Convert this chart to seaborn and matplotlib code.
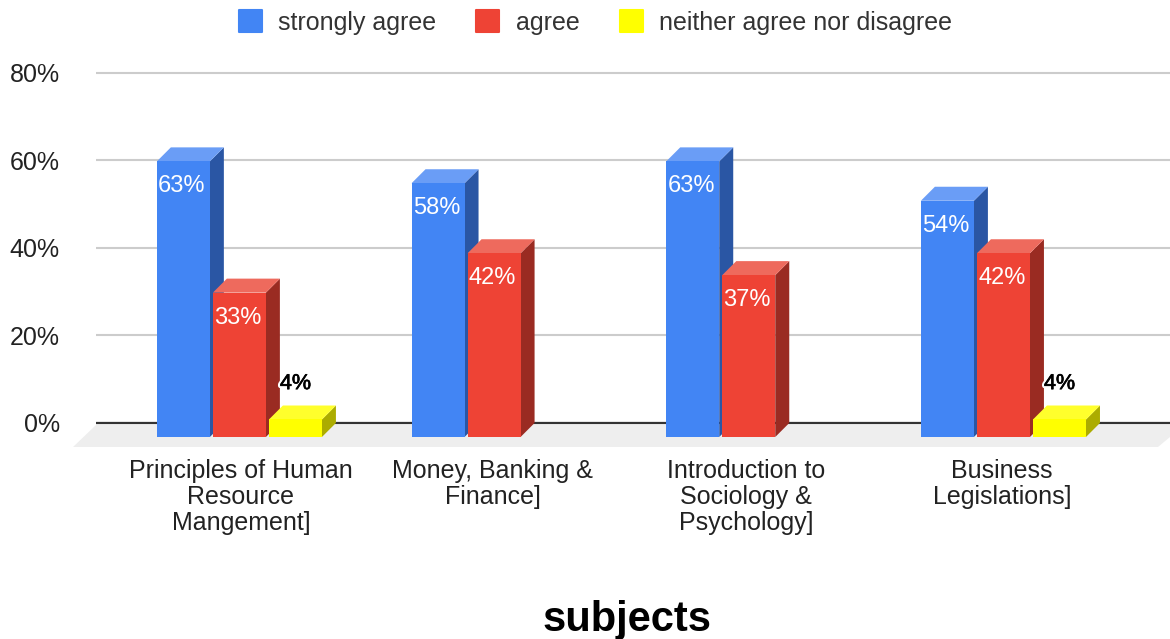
# Import libraries
import pandas as pd
import matplotlib.pyplot as plt
import matplotlib.patheffects as pe
from matplotlib.patches import Polygon
from matplotlib.transforms import ScaledTranslation
import seaborn as sns

# Chart data
subjects = [
    "Principles of Human\nResource\nMangement]",
    "Money, Banking &\nFinance]",
    "Introduction to\nSociology &\nPsychology]",
    "Business\nLegislations]",
]
responses = ["strongly agree", "agree", "neither agree nor disagree"]
strongly_agree = [63, 58, 63, 54]
agree = [33, 42, 37, 42]
neither = [4, 0, 0, 4]
y_ticks = [0, 20, 40, 60, 80]

# Colours for front, side and top of each 3D bar
front_colors = ["#4285F4", "#EE4335", "#FFFF00"]
side_colors = ["#2A56A4", "#9A2B22", "#ACAC00"]
top_colors = ["#6A9DF6", "#EE6A5D", "#FFFF2C"]

# Build long table for seaborn
rows = []
for name, values in zip(responses, [strongly_agree, agree, neither]):
    for subject, value in zip(subjects, values):
        rows.append({"subject": subject, "response": name, "value": value})
df = pd.DataFrame(rows)

sns.set_theme(style="whitegrid", rc={"grid.color": "#CCCCCC", "grid.linewidth": 1.5})
plt.rcParams["font.family"] = ["Liberation Sans", "DejaVu Sans"]

W, H = 1170, 639
fig = plt.figure(figsize=(W / 100, H / 100), dpi=100)
ax = fig.add_axes([96 / W, (H - 447) / H, (W - 96) / W, 378.375 / H])

sns.barplot(
    data=df, x="subject", y="value", hue="response",
    hue_order=responses, palette=front_colors, saturation=1,
    width=0.66, gap=0.054, linewidth=0, ax=ax,
)

ax.set_xlim(-0.563, 3.654)
ax.set_ylim(-5.486, 81)

# Size of the 3D depth in data units (14 px each way)
dx = 14 / 254.67
dy = 14 / 4.375

# Turn the flat bars into 3D boxes
for j, container in enumerate(ax.containers):
    for bar in container:
        value = bar.get_height()
        bar.set_y(-dy)
        bar.set_zorder(3.5 + j)
        if value == 0:
            continue
        x0 = bar.get_x()
        x1 = x0 + bar.get_width()
        y1 = value - dy
        ax.add_patch(Polygon([(x1, -dy), (x1 + dx, 0), (x1 + dx, value), (x1, y1)],
                             closed=True, fc=side_colors[j], lw=0, zorder=3 + j))
        ax.add_patch(Polygon([(x0, y1), (x0 + dx, value), (x1 + dx, value), (x1, y1)],
                             closed=True, fc=top_colors[j], lw=0, zorder=3 + j))

        # Data labels
        label = f"{value:.0f}%"
        xc = (x0 + x1) / 2
        if value < 10:
            ax.text(xc, value + 5.0, label, ha="center", va="center", fontsize=15.5,
                    color="black", zorder=10,
                    path_effects=[pe.Stroke(linewidth=3.5, foreground="white"),
                                  pe.Stroke(linewidth=0.5, foreground="black"),
                                  pe.Normal()])
        else:
            ax.text(xc - 0.006, y1 - 5.7, label, ha="center", va="center", fontsize=17,
                    color="white", zorder=10)

# Grey floor under the chart
ax.add_patch(Polygon([(0, 0.0581), (1, 0.0581), (1, 0.0264), (0.9888, 0), (-0.0214, 0)],
                     closed=True, transform=ax.transAxes, fc="#EEEEEE", lw=0,
                     clip_on=False, zorder=0.5))
ax.axhline(0, color="#333333", lw=1.6, zorder=1.5)

# Axes and text
ax.set_axisbelow(True)
ax.grid(False, axis="x")
ax.grid(True, axis="y")
ax.set_yticks(y_ticks)
ax.set_yticklabels([f"{t}%" for t in y_ticks])
ax.tick_params(axis="y", length=0, pad=26, labelsize=18, labelcolor="#222222")
ax.tick_params(axis="x", length=0, pad=8.6, labelsize=18, labelcolor="#222222")
ax.set_ylabel("")
sns.despine(ax=ax, left=True, bottom=True)

label_shift = [1.5, -1.5, -2.5, -1.5]
for tick, shift in zip(ax.get_xticklabels(), label_shift):
    tick.set_transform(tick.get_transform() + ScaledTranslation(shift / 100, 0, fig.dpi_scale_trans))
    tick.set_linespacing(1.1)

ax.set_xlabel("subjects", fontsize=30, fontweight="bold", color="black", va="center")
ax.xaxis.set_label_coords(0.494, -0.457)

sns.move_legend(
    ax, "center", bbox_to_anchor=(595.5 / W, 1 - 22.5 / H), bbox_transform=fig.transFigure,
    ncol=3, frameon=False, title=None, fontsize=18, labelcolor="#333333",
    handlelength=0.92, handleheight=0.92, handletextpad=0.66, columnspacing=1.6,
    borderpad=0, borderaxespad=0,
)
# Slightly rounded legend squares
for handle in ax.get_legend().get_patches():
    handle.set(edgecolor=handle.get_facecolor(), linewidth=1.5, joinstyle="round")

plt.savefig("out.png", dpi=100)
